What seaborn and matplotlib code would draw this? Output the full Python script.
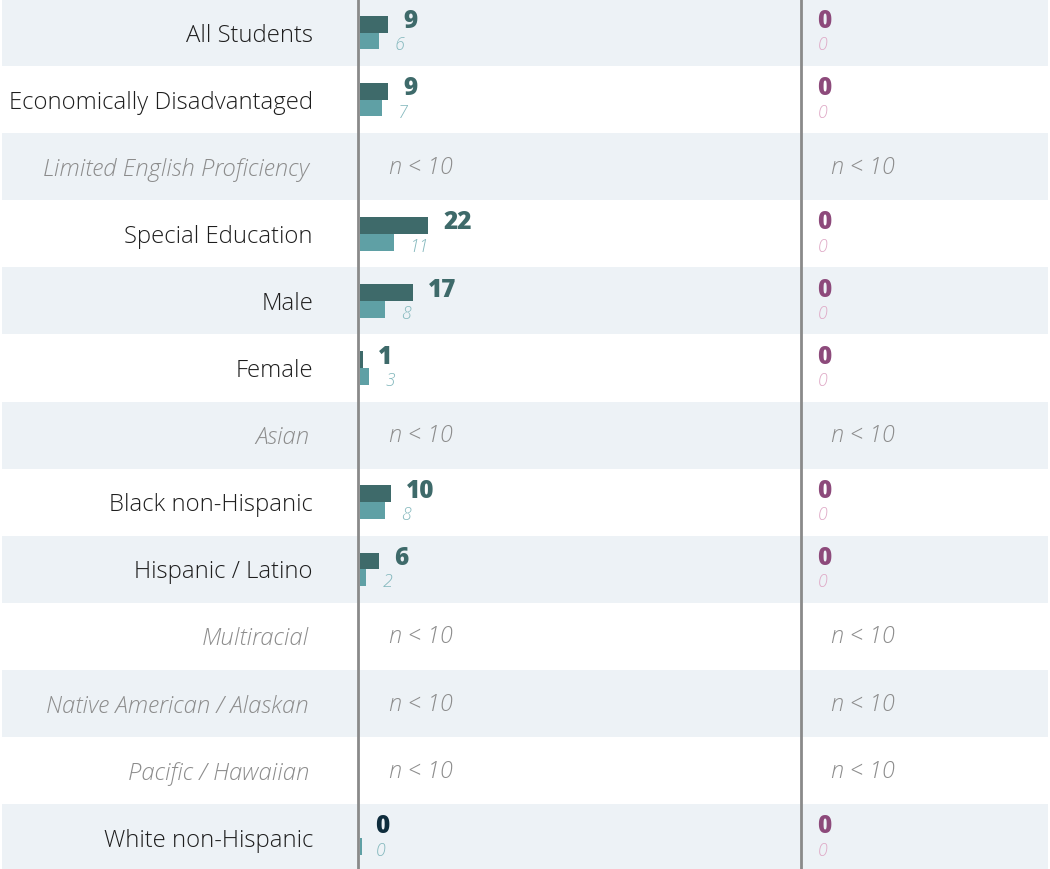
import matplotlib
matplotlib.use("Agg")
import matplotlib.pyplot as plt
import seaborn as sns
import pandas as pd
import numpy as np

groups = ["All Students", "Economically Disadvantaged", "Limited English Proficiency",
          "Special Education", "Male", "Female", "Asian", "Black non-Hispanic",
          "Hispanic / Latino", "Multiracial", "Native American / Alaskan",
          "Pacific / Hawaiian", "White non-Hispanic"]
# left panel: school value (dark) and comparison value (light); None = n < 10
left_main = [9, 9, None, 22, 17, 1, None, 10, 6, None, None, None, 0]
left_comp = [6, 7, None, 11, 8, 3, None, 8, 2, None, None, None, 0]
# right panel
right_main = [0, 0, None, 0, 0, 0, None, 0, 0, None, None, None, 0]
right_comp = [0, 0, None, 0, 0, 0, None, 0, 0, None, None, None, 0]

sns.set_theme(style="white")
plt.rcParams['font.family'] = ['Open Sans', 'DejaVu Sans']

W, H = 1050, 870
ROW = 67.1
Y_TOP = -0.5
Y_BOT = -0.5 + H / ROW
PX_PER_UNIT = 3.1

DARK = "#3e6a6a"
LIGHT = "#5fa0a5"
DARK_TXT = "#3e6a6a"
LIGHT_TXT = "#84b8bd"
NAVY = "#0f2d3d"
PURPLE = "#8d4a7b"
PINK = "#dfa9c6"
BAND = "#edf2f6"
LINE = "#8a8a8a"
LABEL = "#1e1e1e"
MUTED = "#8c8c8c"

fig = plt.figure(figsize=(W / 100, H / 100), dpi=100)
ax_bg = fig.add_axes([0, 0, 1, 1])
ax_bg.set_xlim(0, W)
ax_bg.set_ylim(Y_BOT, Y_TOP)
ax_bg.axis("off")
for i in range(0, len(groups), 2):
    ax_bg.axhspan(i - 0.5, i + 0.5, xmin=2 / W, xmax=1048 / W, color=BAND, lw=0, zorder=0)


def make_df(main, comp):
    rows = []
    for g, m, c in zip(groups, main, comp):
        rows.append({"group": g, "series": "main", "value": np.nan if m is None else m})
        rows.append({"group": g, "series": "comp", "value": np.nan if c is None else c})
    return pd.DataFrame(rows)


def panel(x0, x1, main, comp, main_col, comp_col, main_txt, comp_txt, zero_main_txt, sliver):
    ax = fig.add_axes([x0 / W, 0, (x1 - x0) / W, 1])
    ax.patch.set_alpha(0)
    df = make_df(main, comp)
    sns.barplot(data=df, y="group", x="value", hue="series", order=groups,
                hue_order=["main", "comp"], palette=[main_col, comp_col],
                width=0.5, orient="h", ax=ax, legend=False, linewidth=0,
                saturation=1, errorbar=None)
    ax.set_xlim(0, (x1 - x0) / PX_PER_UNIT)
    ax.set_ylim(Y_BOT, Y_TOP)
    ax.axis("off")
    if sliver:
        # zero-width comparison bars show as a thin sliver
        for p in ax.patches:
            if p.get_width() == 0 and p.get_facecolor()[:3] == matplotlib.colors.to_rgb(comp_col):
                p.set_width(0.6)
    for i, (m, c) in enumerate(zip(main, comp)):
        if m is None:
            ax.text(29 / PX_PER_UNIT, i, "n < 10", ha="left", va="center",
                    fontsize=16.8, fontstyle="italic", fontweight="light", color=MUTED)
            continue
        ax.annotate(str(m), xy=(m, i - 0.125), xytext=(11, 2.5), textcoords="offset points",
                    ha="left", va="center", fontsize=17.5, fontweight="heavy",
                    color=zero_main_txt if m == 0 else main_txt)
        ax.annotate(str(c), xy=(c, i + 0.125), xytext=(11.5, -2.5), textcoords="offset points",
                    ha="left", va="center", fontsize=12.8, fontstyle="italic",
                    fontweight="light", color=comp_txt)
    return ax


panel(360, 800, left_main, left_comp, DARK, LIGHT, DARK_TXT, LIGHT_TXT, NAVY, True)
panel(802, 1050, right_main, right_comp, PURPLE, PINK, PURPLE, PINK, PURPLE, False)

ax_bg.axvline(358, color=LINE, lw=2, zorder=5)
ax_bg.axvline(800.5, color=LINE, lw=2, zorder=5)

for i, (g, m) in enumerate(zip(groups, left_main)):
    if m is None:
        ax_bg.text(309, i + 0.03, g, ha="right", va="center", fontsize=17.2,
                   fontstyle="italic", fontweight="light", color=MUTED)
    else:
        ax_bg.text(313, i + 0.03, g, ha="right", va="center", fontsize=17.2,
                   fontweight="light", color=LABEL)

fig.savefig("out.png", dpi=100)
